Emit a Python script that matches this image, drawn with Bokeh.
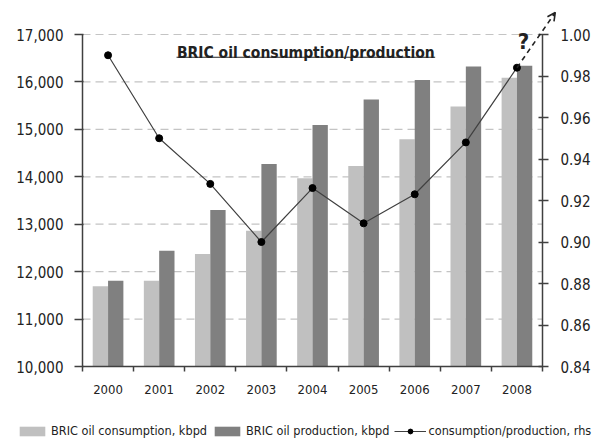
from bokeh.plotting import figure
from bokeh.models import (Range1d, LinearAxis, FixedTicker, NumeralTickFormatter,
                          Legend, LegendItem, Arrow, OpenHead, Label)
from bokeh.embed import file_html
from bokeh.resources import INLINE

years = ["2000", "2001", "2002", "2003", "2004", "2005", "2006", "2007", "2008"]
consumption = [11690, 11810, 12370, 12860, 13970, 14230, 14790, 15480, 16090]
production = [11810, 12440, 13300, 14270, 15090, 15630, 16040, 16325, 16340]
ratio = [0.990, 0.950, 0.928, 0.900, 0.926, 0.909, 0.923, 0.948, 0.984]
left_ticks = [10000, 11000, 12000, 13000, 14000, 15000, 16000, 17000]
right_ticks = [0.84, 0.86, 0.88, 0.90, 0.92, 0.94, 0.96, 0.98, 1.00]
projection_x = 8.75
projection_ratio = 1.0106

FONT = "'DejaVu Sans Condensed', 'Liberation Sans', sans-serif"
AX = "#404040"
TXT = "#222222"

n = len(years)
xs = list(range(n))
bar_w = 0.3

# ---- layout (pixels inside the canvas) ----
W, H = 604, 438
PL, PR, PT, PB = 82, 542, 34, 366          # plot box: left, right, top, bottom
y0, y1 = left_ticks[0], left_ticks[-1]
r0, r1 = right_ticks[0], right_ticks[-1]
xu = (PR - PL) / n                         # px per category
yu = (PB - PT) / (y1 - y0)                 # px per kbpd
ru = (PB - PT) / (r1 - r0)                 # px per ratio unit
x_range = Range1d(-0.5 - PL / xu, -0.5 + (W - PL) / xu)
y_range = Range1d(y0 - (H - PB) / yu, y0 + PB / yu)
ratio_range = Range1d(r0 - (H - PB) / ru, r0 + PB / ru)

p = figure(width=W, height=H, x_range=x_range, y_range=y_range,
           output_backend="svg", toolbar_location=None,
           min_border_left=0, min_border_right=0, min_border_top=0, min_border_bottom=0)
p.outline_line_color = None
p.background_fill_color = "white"
p.extra_y_ranges = {"ratio": ratio_range}

# dashed grid
p.xgrid.visible = False
p.ygrid.visible = False
m = len(left_ticks) - 1
p.segment(x0=[-0.5] * m, x1=[n - 0.5] * m, y0=left_ticks[1:], y1=left_ticks[1:],
          line_color="#c4c4c4", line_dash="8 5", line_width=1.2)

# bars
r_cons = p.vbar(x=[x - bar_w / 2 for x in xs], top=consumption, bottom=y0,
                width=bar_w, fill_color="#c0c0c0", line_color=None)
r_prod = p.vbar(x=[x + bar_w / 2 for x in xs], top=production, bottom=y0,
                width=bar_w, fill_color="#808080", line_color=None)

# ratio line
r_line = p.line(xs, ratio, y_range_name="ratio", line_color="#404040", line_width=1.2)
r_pts = p.scatter(xs, ratio, y_range_name="ratio", size=7, fill_color="black", line_color="black")

# arrow projection
p.add_layout(Arrow(x_start=xs[-1], y_start=ratio[-1], x_end=projection_x, y_end=projection_ratio,
                   y_range_name="ratio", line_color="#222222", line_width=1.6, line_dash="5 4",
                   end=OpenHead(size=8, line_color="#222222", line_width=1.6)))

# left axis
yax = p.yaxis[0]
yax.ticker = FixedTicker(ticks=left_ticks)
yax.formatter = NumeralTickFormatter(format="0,0")
yax.bounds = (y0, y1)
yax.fixed_location = -0.5
# bottom axis
xax = p.xaxis[0]
xax.ticker = FixedTicker(ticks=xs, minor_ticks=[x - 0.5 for x in xs] + [xs[-1] + 0.5])
xax.major_label_overrides = {x: y for x, y in zip(xs, years)}
xax.bounds = (-0.5, n - 0.5)
xax.fixed_location = y0
xax.major_tick_out = 0
xax.major_tick_in = 0
xax.minor_tick_out = 5
xax.minor_tick_in = 0
xax.major_label_standoff = 13
xax.major_label_text_font_size = "13px"

# right axis
rax = LinearAxis(y_range_name="ratio", ticker=FixedTicker(ticks=right_ticks),
                 formatter=NumeralTickFormatter(format="0.00"), bounds=(r0, r1),
                 fixed_location=n - 0.5)
p.add_layout(rax, "right")

for ax in (yax, rax):
    ax.major_label_text_font_size = "15px"
    ax.minor_tick_line_color = None
yax.major_tick_out = 8
yax.major_tick_in = 1
yax.major_label_standoff = 11
rax.major_tick_out = 6
rax.major_tick_in = 4
rax.major_label_standoff = 12

for ax in (yax, rax, xax):
    ax.axis_line_color = AX
    ax.axis_line_width = 1.5
    ax.major_tick_line_color = AX
    ax.major_tick_line_width = 1.5
    ax.minor_tick_line_width = 1.5
    ax.major_label_text_font = FONT
    ax.major_label_text_color = TXT
xax.minor_tick_line_color = AX

# title and question mark
title_x, title_y = 3.87, 16600
p.add_layout(Label(x=title_x, y=title_y, text="BRIC oil consumption/production",
                   text_font=FONT, text_font_style="bold", text_font_size="15.5px",
                   text_color=TXT, text_align="center", text_baseline="alphabetic"))
half = 2.53
p.segment(x0=[title_x - half], y0=[title_y - 80], x1=[title_x + half], y1=[title_y - 80],
          line_color=TXT, line_width=1.2)
p.add_layout(Label(x=8.13, y=16852, text="?", text_font=FONT, text_font_style="bold",
                   text_font_size="22px", text_color=TXT, text_align="center",
                   text_baseline="alphabetic"))

legend = Legend(items=[
    LegendItem(label="BRIC oil consumption, kbpd", renderers=[r_cons]),
    LegendItem(label="BRIC oil production, kbpd", renderers=[r_prod]),
    LegendItem(label="consumption/production, rhs", renderers=[r_line, r_pts]),
], orientation="horizontal", location=(16, 0))
legend.label_text_font = FONT
legend.label_text_font_size = "12.6px"
legend.label_text_color = TXT
legend.glyph_width = 32
legend.glyph_height = 12
legend.label_height = 12
legend.label_standoff = 3
legend.spacing = 4
legend.padding = 0
legend.margin = 0
legend.border_line_color = None
legend.background_fill_alpha = 0
p.add_layout(legend, "center")

open("out.html", "w").write(file_html(p, INLINE))
